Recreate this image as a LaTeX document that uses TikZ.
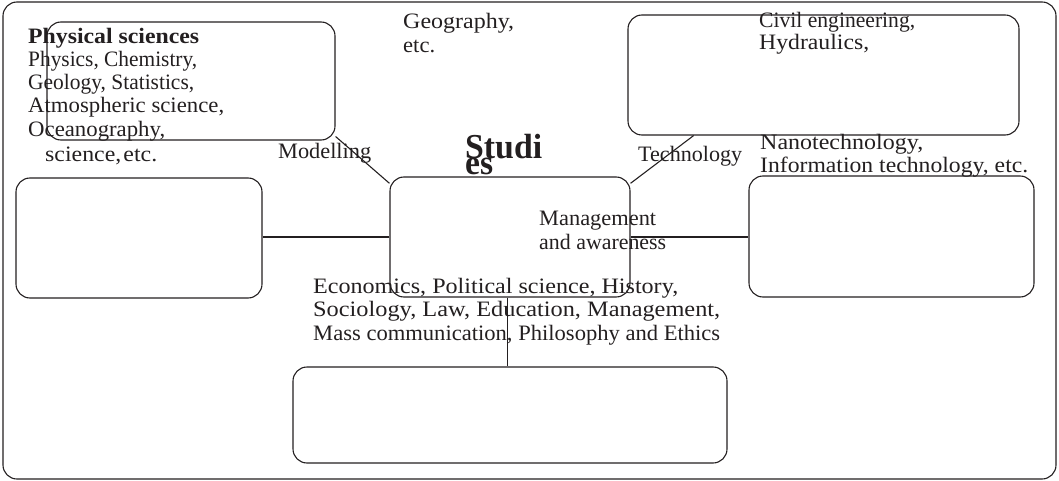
\documentclass[tikz,border=0pt]{standalone}
\usepackage{fontspec}
\usepackage{graphicx}
\setmainfont{Liberation Serif}
\definecolor{ink}{HTML}{231F20}
\newcommand{\fitw}[2]{\resizebox{#1pt}{\height}{#2}}
\begin{document}
\begin{tikzpicture}[x=1pt,y=-1pt,
  box/.style={draw=ink, line width=1.1pt, rounded corners=14pt, rectangle, inner sep=0pt},
  conn/.style={draw=ink, line width=1.1pt},
  lbl/.style={anchor=base west, inner sep=0pt, text=ink, font=\fontsize{22}{23}\selectfont},
  big/.style={anchor=base west, inner sep=0pt, text=ink, font=\fontsize{35}{17}\selectfont\bfseries},
  ]
\useasboundingbox (0,0) rectangle (1059,481);
\draw[box] (3,2) rectangle (1056,479);
% boxes
\node[box, minimum width=288pt, minimum height=118pt] (phys) at (191,81) {};
\node[box, minimum width=391pt, minimum height=120pt] (tech) at (823.5,75) {};
\node[box, minimum width=246pt, minimum height=120pt] (left) at (139,238) {};
\node[box, minimum width=240pt, minimum height=120pt] (center) at (510,237) {};
\node[box, minimum width=285pt, minimum height=121pt] (right) at (891.5,236.5) {};
\node[box, minimum width=434pt, minimum height=96pt] (bottom) at (510,415) {};
% connectors
\draw[conn] (phys.-21.5) -- (center.156.6);
\draw[conn] (tech.205.9) -- (center.24.2);
\draw[conn] (center.west) -- (center.west -| left.east);
\draw[conn] (center.east) -- (center.east -| right.west);
\draw[conn] (center.-92.86) -- (center.-92.86 |- bottom.north);
% texts
\node[lbl] (ps1) at (28,44) {\fitw{171}{\textbf{Physical sciences}}};
\node[lbl] (ps2) at (28,67) {\fitw{169}{Physics, Chemistry,}};
\node[lbl] (ps3) at (28,90) {\fitw{166}{Geology, Statistics,}};
\node[lbl] (ps4) at (28,113) {\fitw{196}{Atmospheric science,}};
\node[lbl] (ps5) at (28,137) {\fitw{137}{Oceanography,}};
\node[lbl] (ps6) at (45,162) {\fitw{112}{science,\kern2pt etc.}};
\node[lbl] (geo1) at (403,29) {\fitw{111}{Geography,}};
\node[lbl] (geo2) at (403,53) {\fitw{32}{etc.}};
\node[lbl] (civ1) at (759,28) {\fitw{156}{Civil engineering,}};
\node[lbl] (civ2) at (759,50) {\fitw{110}{Hydraulics,}};
\node[lbl] (nano1) at (760,150) {\fitw{163}{Nanotechnology,}};
\node[lbl] (nano2) at (760,172) {\fitw{268}{Information technology, etc.}};
\node[lbl] (model) at (278,159) {\fitw{93}{Modelling}};
\node[lbl] (techl) at (638,162) {\fitw{104}{Technology}};
\node[lbl] (man1) at (539,225) {\fitw{117}{Management}};
\node[lbl] (man2) at (539,249) {\fitw{127}{and awareness}};
\node[lbl] (eco1) at (313,293) {\fitw{365}{Economics, Political science, History,}};
\node[lbl] (eco2) at (313,316) {\fitw{407}{Sociology, Law, Education, Management,}};
\node[lbl] (eco3) at (313,340) {\fitw{407}{Mass communication, Philosophy and Ethics}};
\node[big] (stu1) at (465,159) {\fitw{77}{Studi}};
\node[big] (stu2) at (465,175) {\fitw{28}{es}};
\end{tikzpicture}
\end{document}
